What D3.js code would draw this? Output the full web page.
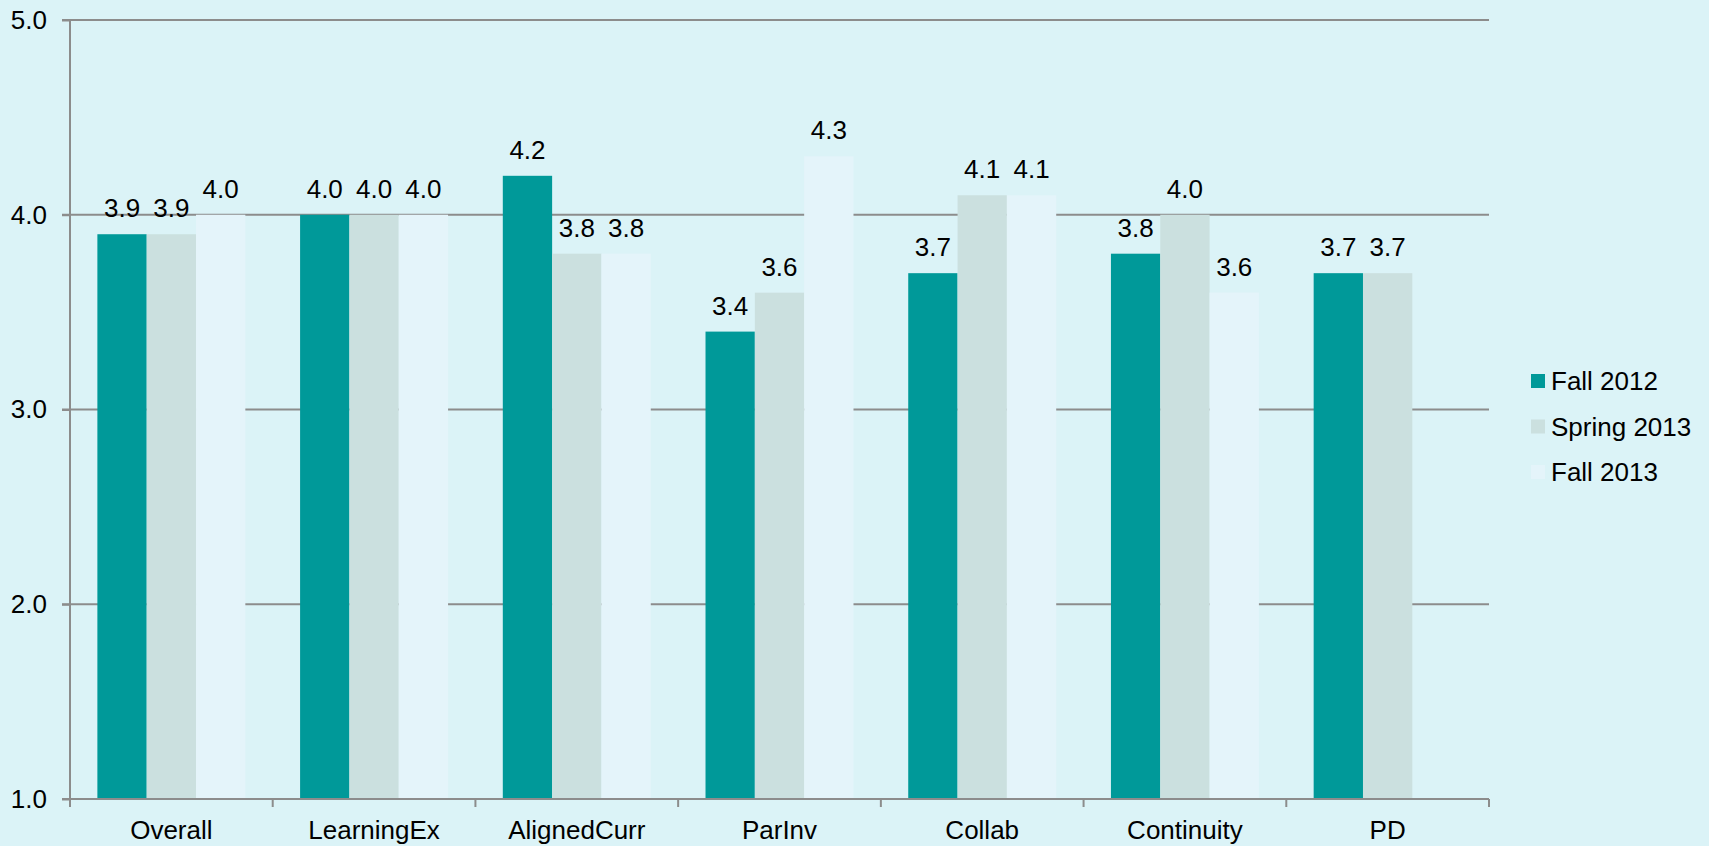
<!DOCTYPE html>
<html><head><meta charset="utf-8">
<script src="https://cdn.jsdelivr.net/npm/d3@7"></script>
<style>
html,body{margin:0;padding:0;background:#dbf3f7;}
svg{display:block;}
text{font-family:"Liberation Sans",Arial,sans-serif;fill:#000;}
</style></head>
<body>
<svg id="chart" width="1709" height="846"></svg>
<script>
const categories = ["Overall","LearningEx","AlignedCurr","ParInv","Collab","Continuity","PD"];
const seriesNames = ["Fall 2012","Spring 2013","Fall 2013"];
const fall2012   = [3.9, 4.0, 4.2, 3.4, 3.7, 3.8, 3.7];
const spring2013 = [3.9, 4.0, 3.8, 3.6, 4.1, 4.0, 3.7];
const fall2013   = [4.0, 4.0, 3.8, 4.3, 4.1, 3.6, null];
const yTicks = [1.0, 2.0, 3.0, 4.0, 5.0];
const colors = ["#009999", "#cbe0df", "#e4f4fa"];

const seriesValues = [fall2012, spring2013, fall2013];
const svg = d3.select("#chart");
const plotLeft = 70, plotRight = 1489, plotTop = 20, plotBottom = 799;

const x0 = d3.scaleBand().domain(categories).range([plotLeft, plotRight]).padding(0);
const x1 = d3.scaleBand().domain(seriesNames).range([0, x0.bandwidth()]).paddingInner(0).paddingOuter(0.555);
const y = d3.scaleLinear().domain([1, 5]).range([plotBottom, plotTop]);

// gridlines
svg.append("g").selectAll("line").data(yTicks.filter(t => t > 1)).join("line")
  .attr("x1", plotLeft - 8).attr("x2", plotRight)
  .attr("y1", d => y(d)).attr("y2", d => y(d))
  .attr("stroke", "#8c8c8c").attr("stroke-width", 2);

// bars
const groups = svg.append("g").selectAll("g").data(categories).join("g")
  .attr("transform", c => `translate(${x0(c)},0)`);
seriesNames.forEach((s, si) => {
  const valOf = c => seriesValues[si][categories.indexOf(c)];
  const sel = groups.filter(c => valOf(c) != null);
  sel.append("rect")
    .attr("x", x1(s))
    .attr("width", x1.bandwidth())
    .attr("y", c => y(valOf(c)))
    .attr("height", c => plotBottom - y(valOf(c)))
    .attr("fill", colors[si]);
  sel.append("text")
    .attr("x", x1(s) + x1.bandwidth() / 2)
    .attr("y", c => y(valOf(c)) - 17)
    .attr("text-anchor", "middle")
    .attr("font-size", 26)
    .text(c => valOf(c).toFixed(1));
});

// y axis
const yAxis = svg.append("g").attr("transform", `translate(${plotLeft},0)`)
  .call(d3.axisLeft(y).tickValues(yTicks).tickFormat(d3.format(".1f")).tickSize(8).tickPadding(15));
yAxis.select(".domain").attr("stroke", "#8c8c8c").attr("stroke-width", 2)
  .attr("d", `M0,${plotTop}V${plotBottom + 8}`);
yAxis.selectAll(".tick line").attr("stroke", "#8c8c8c").attr("stroke-width", 2);
yAxis.selectAll(".tick text").attr("font-size", 26).attr("font-family", "Liberation Sans, Arial, sans-serif").attr("fill", "#000");

// x axis
const xAxis = svg.append("g").attr("transform", `translate(0,${plotBottom})`)
  .call(d3.axisBottom(x0).tickSize(0).tickPadding(22));
xAxis.select(".domain").attr("stroke", "#8c8c8c").attr("stroke-width", 2)
  .attr("d", `M${plotLeft - 8},0H${plotRight}`);
xAxis.selectAll(".tick text").attr("font-size", 26).attr("font-family", "Liberation Sans, Arial, sans-serif").attr("fill", "#000");
const boundaries = categories.map(c => x0(c)).concat([plotRight]);
svg.append("g").selectAll("line").data(boundaries).join("line")
  .attr("x1", d => d).attr("x2", d => d)
  .attr("y1", plotBottom).attr("y2", plotBottom + 8)
  .attr("stroke", "#8c8c8c").attr("stroke-width", 2);

// legend
const legend = svg.append("g").attr("transform", "translate(1531,374)");
seriesNames.forEach((s, i) => {
  const g = legend.append("g").attr("transform", `translate(0,${i * 45.5})`);
  g.append("rect").attr("width", 14).attr("height", 14).attr("fill", colors[i]);
  g.append("text").attr("x", 20).attr("y", 16).attr("font-size", 26).text(s);
});
</script>
</body></html>
